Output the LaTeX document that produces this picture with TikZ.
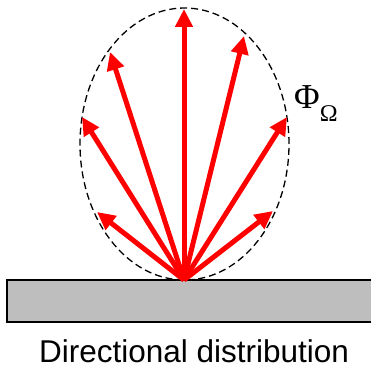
\documentclass[tikz,border=0pt]{standalone}
\usepackage{fontspec}
\usetikzlibrary{arrows.meta}
\newfontfamily\captionfont{Liberation Sans}
\newfontfamily\symbolfont{Liberation Serif}
\definecolor{surfacegray}{HTML}{BEBEBE}
\tikzset{
	ray/.style={red, line width=5pt, -{Triangle[length=18pt, width=17pt]}},
	lobe/.style={black, line width=1.3pt, dash pattern=on 7pt off 4pt}
}
\begin{document}
\begin{tikzpicture}[x=1pt, y=1pt]
	\useasboundingbox (0, 0) rectangle (371, 366);
	
	\coordinate (O) at (184, 86);
	\coordinate (C) at (184.5, 222);
	
	% Surface
	\draw[fill=surfacegray, line width=2pt] (7, 44.5) rectangle (390, 86);
	
	% Dashed distribution lobe
	\draw[lobe] (C) ellipse [x radius=104.5, y radius=136];
	
	% Tips of the rays
	\foreach \i/\x/\y in {1/97/154, 2/82/249, 3/110/314, 4/184/357, 5/244/330, 6/287/249, 7/273/155} {
		\coordinate (T\i) at (\x, \y);
	}
	
	% Rays in red
	\foreach \i in {1,...,7} {
		\draw[ray] (O) -- (T\i);
	}
	
	% Labels
	\node[anchor=base west, inner sep=0pt] (phi) at (294, 257)
		{\symbolfont\fontsize{35}{38}\selectfont Φ\raisebox{-13pt}{\fontsize{24}{26}\selectfont Ω}};
	\node[anchor=base, inner sep=0pt] (caption) at (194, 4)
		{\captionfont\fontsize{31.5}{36}\selectfont Directional distribution};
	
\end{tikzpicture}
\end{document}
